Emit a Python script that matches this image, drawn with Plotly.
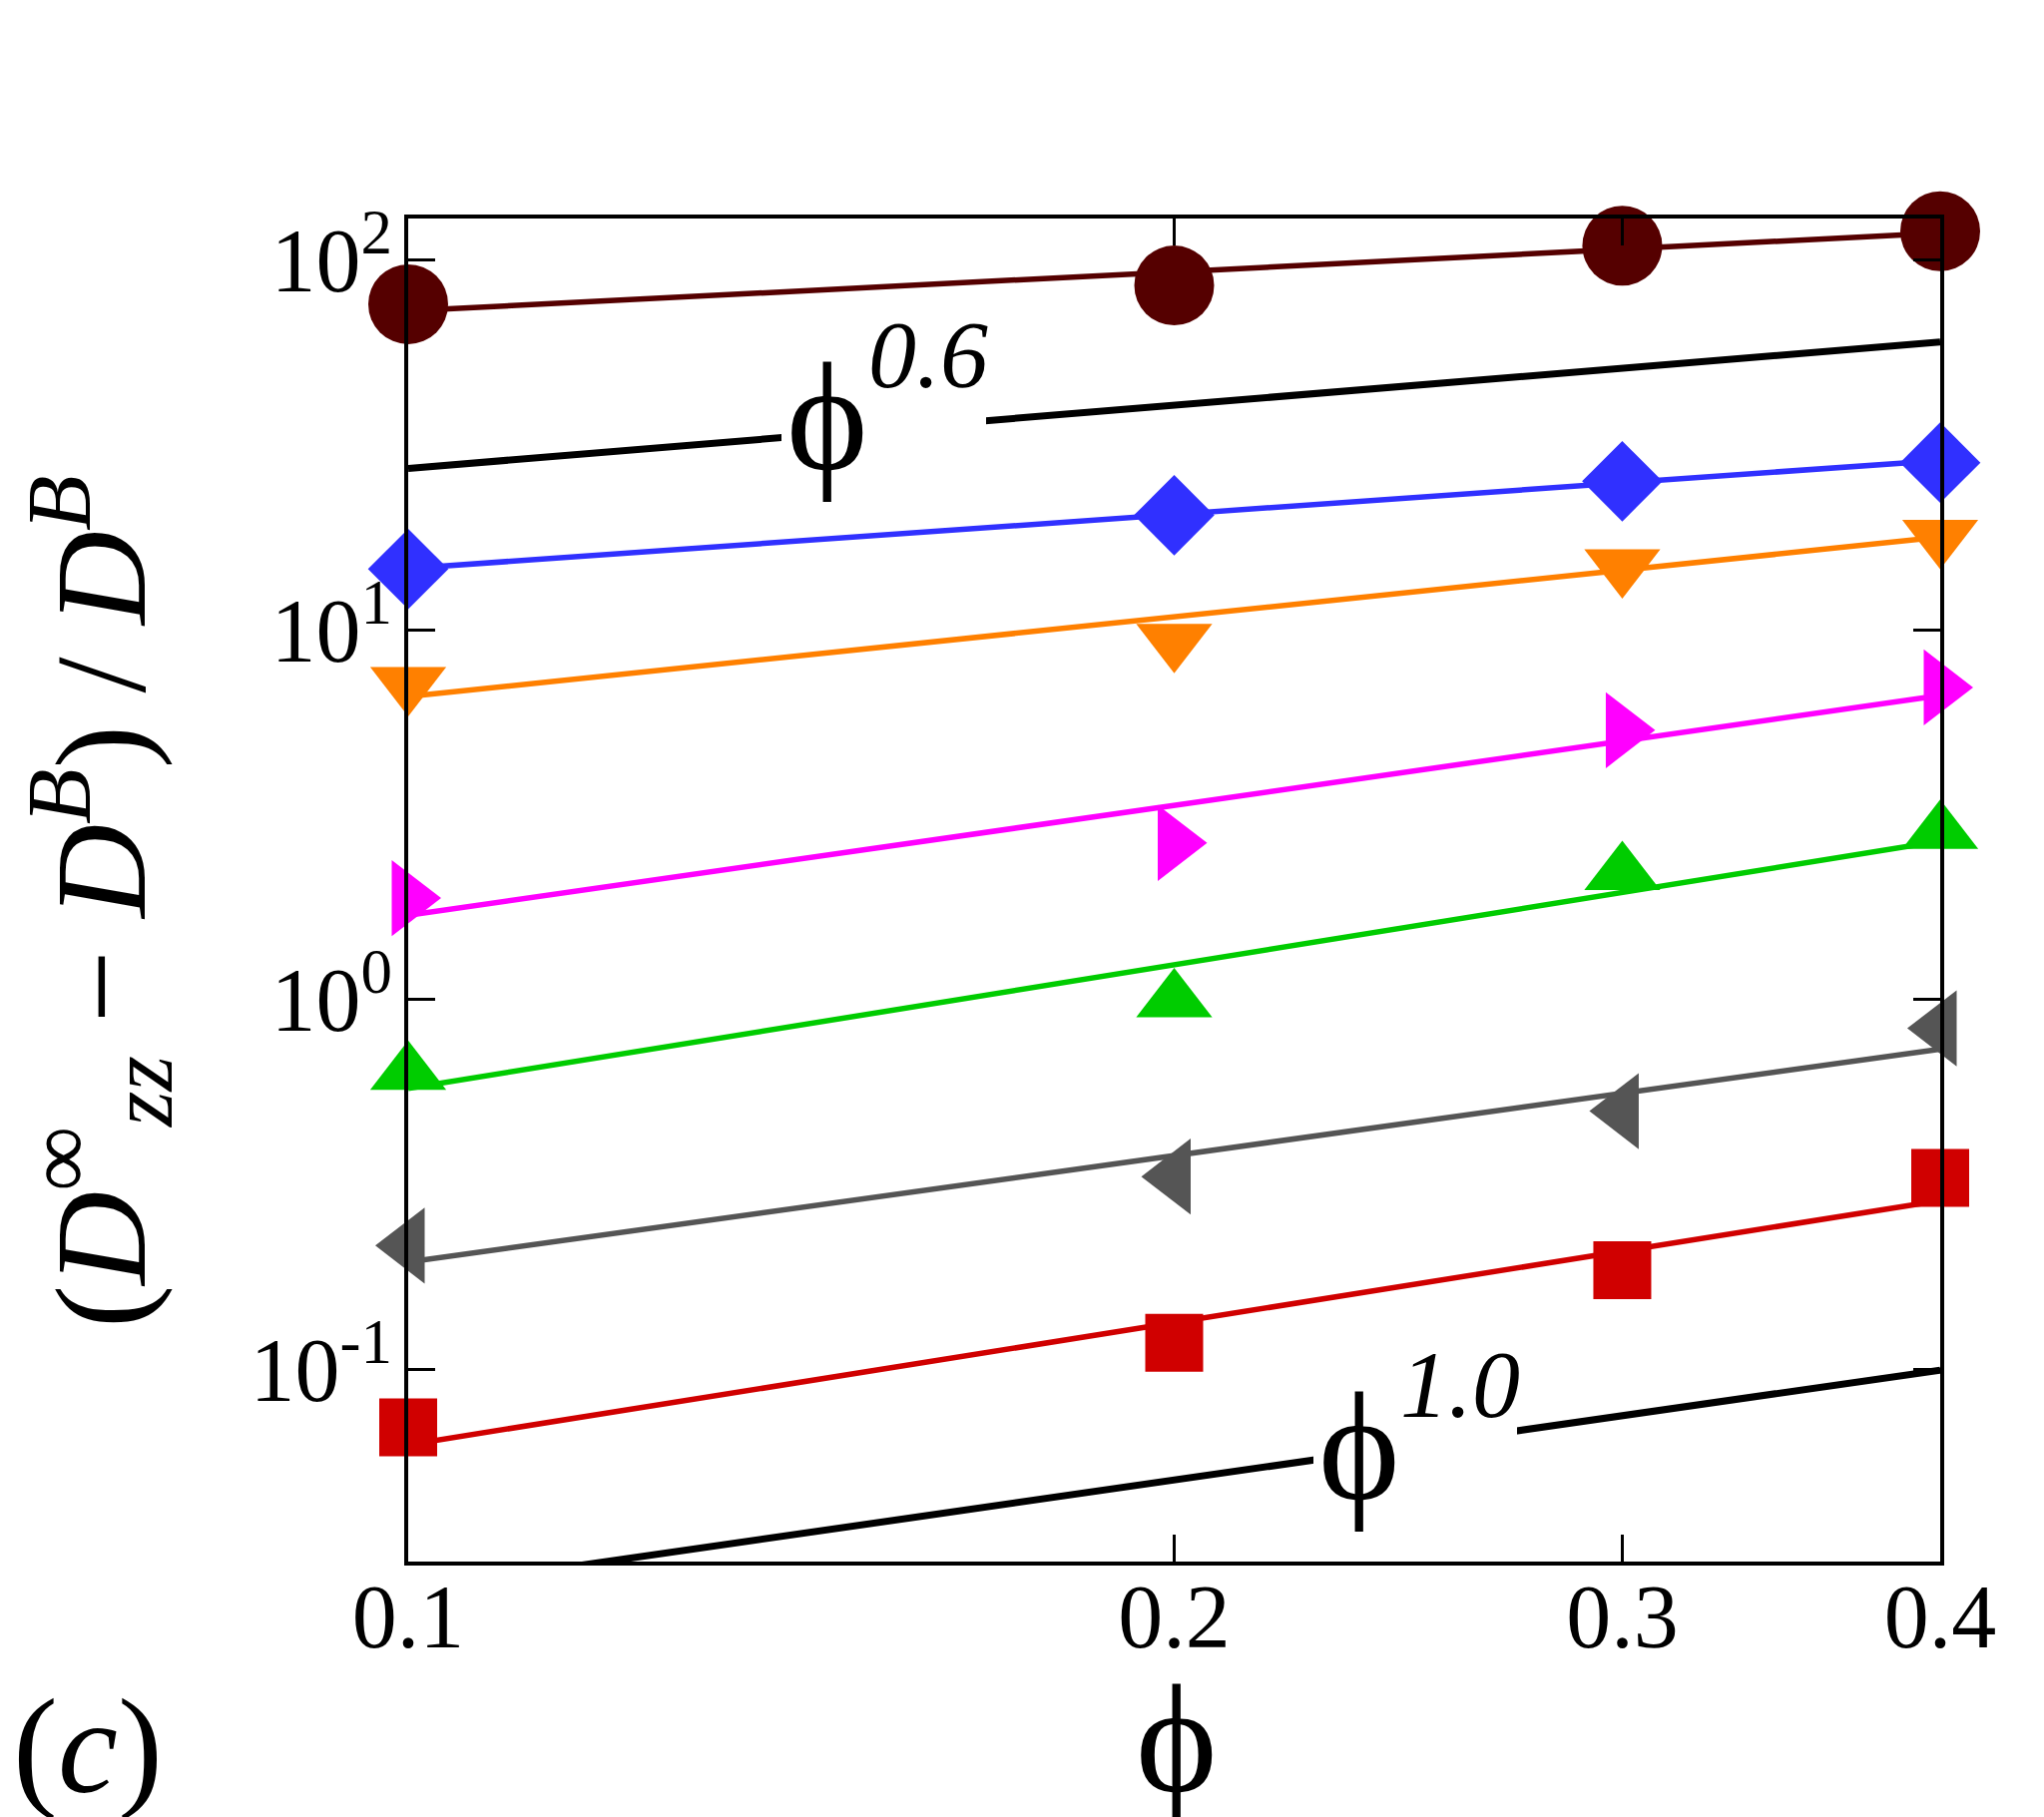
import plotly.graph_objects as go

# ---------------- data ----------------
phi = [0.1, 0.2, 0.3, 0.4]
fit_phi = [0.1, 0.4]

circle_vals = [75.9, 85.3, 109.3, 119.5]
circle_fit = [72.8, 118.3]
diamond_vals = [14.6, 20.4, 25.2, 28.3]
diamond_fit = [14.64, 28.7]
tridown_vals = [7.15, 9.36, 14.9, 17.9]
tridown_fit = [6.60, 17.8]
triright_vals = [1.88, 2.65, 5.35, 6.98]
triright_fit = [1.69, 6.64]
triup_vals = [0.631, 0.992, 2.19, 2.83]
triup_fit = [0.575, 2.68]
trileft_vals = [0.216, 0.332, 0.499, 0.836]
trileft_fit = [0.195, 0.734]
square_vals = [0.0696, 0.118, 0.1854, 0.329]
square_fit = [0.0625, 0.286]

guide06_vals = [27.3, 60.0]
guide10_vals = [0.0253, 0.0995]

x_tickvals = [0.1, 0.2, 0.3, 0.4]
x_ticktext = ["0.1", "0.2", "0.3", "0.4"]
y_tickvals = [0.1, 1, 10, 100]
y_ticktext = ["10<sup>-1</sup>", "10<sup>0</sup>", "10<sup>1</sup>", "10<sup>2</sup>"]

FONT = "Liberation Serif"

series = [
    (circle_vals, circle_fit, "#550000", "circle", 80),
    (diamond_vals, diamond_fit, "#3030FF", "diamond", 62),
    (tridown_vals, tridown_fit, "#FF8000", "triangle-down", 66),
    (triright_vals, triright_fit, "#FF00FF", "triangle-right", 66),
    (triup_vals, triup_fit, "#00CC00", "triangle-up", 66),
    (trileft_vals, trileft_fit, "#555555", "triangle-left", 66),
    (square_vals, square_fit, "#D00000", "square", 58),
]

fig = go.Figure()

# guide lines
for g in (guide06_vals, guide10_vals):
    fig.add_trace(go.Scatter(x=fit_phi, y=g, mode="lines",
                             line=dict(color="black", width=7),
                             showlegend=False, hoverinfo="skip"))

for vals, fit, color, sym, size in series:
    fig.add_trace(go.Scatter(x=fit_phi, y=fit, mode="lines",
                             line=dict(color=color, width=5.5),
                             showlegend=False, hoverinfo="skip"))
for vals, fit, color, sym, size in series:
    fig.add_trace(go.Scatter(x=phi, y=vals, mode="markers",
                             marker=dict(symbol=sym, size=size, color=color,
                                         line=dict(width=0)),
                             cliponaxis=False, showlegend=False))

L, R, T, B = 409, 104, 219, 256
W, H = 2048, 1821
pw, ph = W - L - R, H - T - B


def px(xp):
    return (xp - L) / pw


def py(yp):
    return (H - B - yp) / ph


axis_common = dict(showline=True, linecolor="black", linewidth=4,
                   mirror="ticks", ticks="inside", ticklen=27, tickwidth=3,
                   tickcolor="black", showgrid=False, zeroline=False,
                   tickfont=dict(family=FONT, size=90, color="black"))

fig.update_xaxes(type="log", range=[-1, -0.39794], tickvals=x_tickvals,
                 ticktext=x_ticktext, ticklabelstandoff=-26, **axis_common)
fig.update_yaxes(type="log", range=[-1.520, 2.112], tickvals=y_tickvals,
                 ticktext=y_ticktext, ticklabelstandoff=-6, **axis_common)

# white gaps in the guide lines behind their labels
gap_shapes = [
    dict(type="rect", xref="paper", yref="paper", layer="above",
         x0=px(783), x1=px(988), y0=py(452), y1=py(405),
         fillcolor="white", line=dict(width=0)),
    dict(type="rect", xref="paper", yref="paper", layer="above",
         x0=px(1316), x1=px(1520), y0=py(1480), y1=py(1418),
         fillcolor="white", line=dict(width=0)),
]

annotations = [
    # guide labels
    dict(text="\u03d5", x=px(829), y=py(418),
         font=dict(family=FONT, size=155, color="black")),
    dict(text="<i>0.6</i>", x=px(930), y=py(355),
         font=dict(family=FONT, size=96, color="black")),
    dict(text="\u03d5", x=px(1362), y=py(1450),
         font=dict(family=FONT, size=155, color="black")),
    dict(text="<i>1.0</i>", x=px(1463), y=py(1387),
         font=dict(family=FONT, size=96, color="black")),
    # x-axis title
    dict(text="\u03d5", x=px(1179), y=py(1743),
         font=dict(family=FONT, size=155, color="black")),
    # y-axis title
    dict(text="(<i>D</i><sup>\u221e</sup><sub><i>zz</i></sub> \u2212 <i>D</i><sup><i>B</i></sup>) / <i>D</i><sup><i>B</i></sup>",
         x=px(100), y=py(904), textangle=-90,
         font=dict(family=FONT, size=130, color="black")),
    # panel label
    dict(text="(<i>c</i>)", x=px(88), y=py(1750),
         font=dict(family=FONT, size=135, color="black")),
]
for a in annotations:
    a.update(xref="paper", yref="paper", showarrow=False,
             xanchor="center", yanchor="middle")

fig.update_layout(width=W, height=H, autosize=False,
                  margin=dict(l=L, r=R, t=T, b=B, pad=0),
                  paper_bgcolor="white", plot_bgcolor="white",
                  annotations=annotations, shapes=gap_shapes,
                  showlegend=False)

fig.write_html("out.html")
